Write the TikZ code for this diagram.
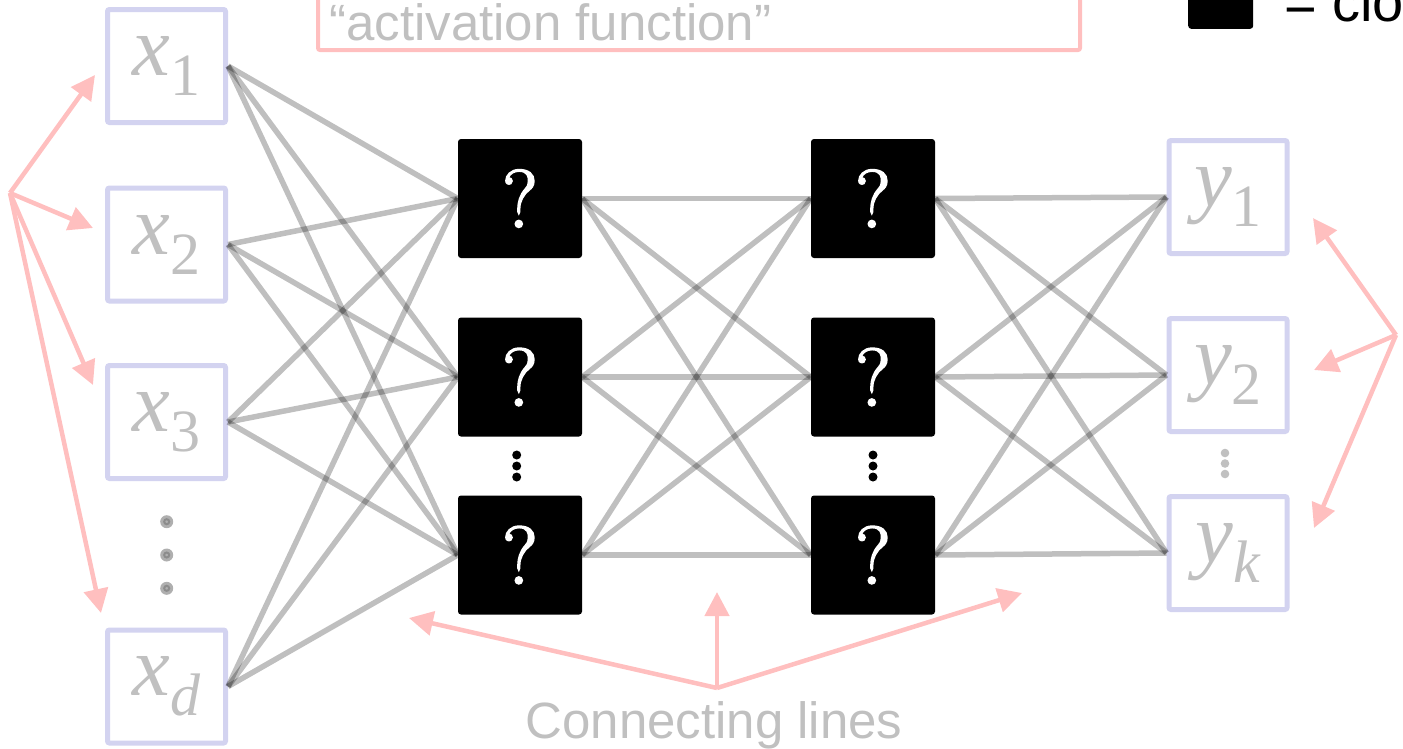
\documentclass[tikz,border=0pt]{standalone}
\usepackage{fontspec}
\setmainfont{Liberation Sans}
\newfontfamily\glyphserif{Liberation Serif}
\newfontfamily\lmroman[FakeBold=2.2]{Latin Modern Roman}
\usetikzlibrary{arrows.meta}

\definecolor{boxblue}{RGB}{211,211,240}
\definecolor{txtgray}{RGB}{192,192,192}
\definecolor{pinkline}{RGB}{255,191,191}
\definecolor{dotgray}{RGB}{175,175,175}
\definecolor{dotdark}{RGB}{140,140,140}

% lowered subscript for the big italic labels
\newcommand{\lowidx}[1]{\raisebox{-20pt}{\fontsize{60}{60}\selectfont #1}}

\begin{document}
\begin{tikzpicture}[x=1pt,y=-1pt,
  inbox/.style={draw=boxblue, line width=5pt, rounded corners=2pt,
    minimum width=118pt, minimum height=113pt, inner sep=0pt,
    text=txtgray, font=\glyphserif\fontsize{85}{85}\selectfont\itshape},
  hidbox/.style={fill=black, rounded corners=3pt, minimum width=124pt,
    minimum height=119pt, inner sep=0pt, text=white,
    font=\lmroman\fontsize{82}{82}\selectfont},
  link/.style={draw=black, draw opacity=0.25, line width=5.5pt},
  pointer/.style={draw=pinkline, fill=pinkline, line width=4.5pt,
    -{Triangle[length=24pt,width=24pt]}},
  bigtext/.style={font=\fontsize{51}{51}\selectfont, inner sep=0pt},
]
\useasboundingbox (0,0) rectangle (1403,748);
\clip (0,0) rectangle (1403,748);

% caption box at the top
\node[draw=pinkline, line width=4pt, rounded corners=2pt, minimum width=762pt,
      minimum height=90pt, anchor=south west, inner sep=0pt] (actbox) at (316,52) {};
\node[bigtext, anchor=base west, text=txtgray] (actlabel) at (329,40) {“activation function”};

% legend
\node[fill=black, rounded corners=3pt, minimum width=65pt, minimum height=70pt,
      anchor=south west, inner sep=0pt] (legendbox) at (1188,29) {};
\node[anchor=base west, inner sep=0pt, font=\fontsize{56}{56}\selectfont] (legendtext) at (1284,21) {= clo};

% input layer
\node[inbox] (x1) at (166.5,66)    {x\lowidx{\upshape 1}};
\node[inbox] (x2) at (166.5,244.5) {x\lowidx{\upshape 2}};
\node[inbox] (x3) at (166.5,422)   {x\lowidx{\upshape 3}};
\node[inbox] (xd) at (166.5,686.5) {x\lowidx{d}};

% hidden layers
\node[hidbox] (h1) at (520,198.5) {?};
\node[hidbox] (h2) at (520,377)   {?};
\node[hidbox] (h3) at (520,555)   {?};
\node[hidbox] (g1) at (873,198.5) {?};
\node[hidbox] (g2) at (873,377)   {?};
\node[hidbox] (g3) at (873,555)   {?};

% output layer
\node[inbox] (y1) at (1228,197) {y\lowidx{\upshape 1}};
\node[inbox] (y2) at (1228,375) {y\lowidx{\upshape 2}};
\node[inbox] (yk) at (1228,553) {y\lowidx{k}};

% full connections between layers
\foreach \a in {x1,x2,x3,xd}
  \foreach \b in {h1,h2,h3}
    \draw[link] (\a.east) -- (\b.west);
\foreach \a in {h1,h2,h3}
  \foreach \b in {g1,g2,g3}
    \draw[link] (\a.east) -- (\b.west);
\foreach \a in {g1,g2,g3}
  \foreach \b in {y1,y2,yk}
    \draw[link] (\a.east) -- (\b.west);

% vertical ellipses
\foreach \yy in {521.7,555,588.3} {
  \fill[dotgray] (166.7,\yy) circle (6.5pt);
  \draw[dotdark, line width=2pt] (166.7,\yy) circle (2.5pt);
}
\foreach \yy in {455,466,477} {
  \fill[black] (516.7,\yy) circle (4.5pt);
  \fill[black] (873,\yy) circle (4.5pt);
}
\foreach \yy in {453,463.5,474}
  \fill[txtgray] (1225,\yy) circle (4.3pt);

% pointers to the inputs
\coordinate (inorigin) at (10,193);
\coordinate (tinx1) at (95,75);
\coordinate (tinx2) at (93,228);
\coordinate (tinx3) at (93,385);
\coordinate (tinxd) at (101,613);
\foreach \t in {tinx1,tinx2,tinx3,tinxd}
  \draw[pointer] (inorigin) -- (\t);

% pointers to the outputs
\coordinate (outorigin) at (1396,335);
\coordinate (touty1) at (1313,218);
\coordinate (touty2) at (1314,370);
\coordinate (toutyk) at (1314,528);
\foreach \t in {touty1,touty2,toutyk}
  \draw[pointer] (outorigin) -- (\t);

% pointers to the connecting lines
\coordinate (linkorigin) at (717,688);
\coordinate (tlinkl) at (409,618);
\coordinate (tlinkm) at (717,592);
\coordinate (tlinkr) at (1022,593);
\foreach \t in {tlinkl,tlinkm,tlinkr}
  \draw[pointer] (linkorigin) -- (\t);

\node[bigtext, anchor=base, text=txtgray] (connlabel) at (714,738) {Connecting lines};
\end{tikzpicture}
\end{document}
